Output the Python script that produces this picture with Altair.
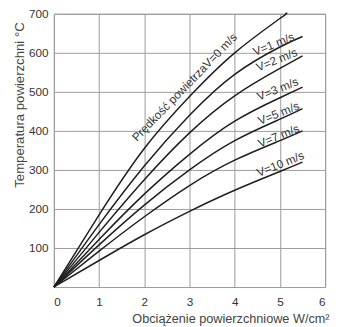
import altair as alt
import pandas as pd

# Surface load (W/cm2) sample points for each air-speed curve
x_v0 = [0, 1, 2, 3, 4, 5, 5.12]
x_std = [0, 1, 2, 3, 4, 5, 5.5]

# Surface temperature (deg C)
t_v0 = [0, 185, 355, 488, 600, 688, 700]
t_v1 = [0, 160, 310, 440, 545, 615, 642]
t_v2 = [0, 140, 275, 395, 490, 560, 592]
t_v3 = [0, 122, 238, 340, 425, 485, 512]
t_v5 = [0, 108, 210, 300, 375, 430, 457]
t_v7 = [0, 92, 180, 260, 325, 375, 400]
t_v10 = [0, 68, 134, 194, 248, 296, 320]

series = ["V0", "V1", "V2", "V3", "V5", "V7", "V10"]
xs = [x_v0, x_std, x_std, x_std, x_std, x_std, x_std]
ts = [t_v0, t_v1, t_v2, t_v3, t_v5, t_v7, t_v10]

# Curve labels
main_label = ["Prędkość powietrzaV=0 m/s"]
main_label_x = [2.89]
main_label_t = [512]

side_labels = ["V=1 m/s", "V=2 m/s", "V=3 m/s", "V=5 m/s", "V=7 m/s", "V=10 m/s"]
side_label_x = [4.86, 4.93, 4.95, 4.97, 4.97, 5.01]
side_label_t = [622, 582, 507, 445, 387, 315]

x_ticks = [0, 1, 2, 3, 4, 5, 6]
y_ticks = [100, 200, 300, 400, 500, 600, 700]

rows = []
for s, xv, tv in zip(series, xs, ts):
    for i, (a, b) in enumerate(zip(xv, tv)):
        rows.append({"series": s, "x": a, "t": b, "o": i})
df = pd.DataFrame(rows)

main_df = pd.DataFrame({"label": main_label, "x": main_label_x, "t": main_label_t})
side_df = pd.DataFrame({"label": side_labels, "x": side_label_x, "t": side_label_t})

FONT = "Liberation Sans"

xscale = alt.Scale(domain=[0, 6], nice=False, zero=True)
yscale = alt.Scale(domain=[0, 700], nice=False, zero=True)

xenc = alt.X(
    "x:Q",
    scale=xscale,
    axis=alt.Axis(
        values=x_ticks,
        grid=True,
        gridColor="#9a9a9a",
        gridWidth=1,
        domain=False,
        ticks=False,
        labelPadding=10,
        labelFontSize=12,
        labelColor="#333",
        labelFont=FONT,
        title="Obciążenie powierzchniowe W/cm²",
        titleFont=FONT,
        titleFontSize=13,
        titleFontWeight="normal",
        titleColor="#444",
        titleAnchor="end",
        titleAlign="right",
        titleBaseline="middle",
        titleX=282,
        titleY=32,
    ),
)
yenc = alt.Y(
    "t:Q",
    scale=yscale,
    axis=alt.Axis(
        values=y_ticks,
        grid=True,
        gridColor="#9a9a9a",
        gridWidth=1,
        domain=False,
        ticks=False,
        labelPadding=6,
        labelFontSize=12,
        labelColor="#333",
        labelFont=FONT,
        title="Temperatura powierzchni °C",
        titleFont=FONT,
        titleFontSize=13.5,
        titleFontWeight="normal",
        titleColor="#444",
        titleAngle=-90,
        titleAlign="center",
        titleBaseline="middle",
        titleX=-35,
        titleY=93,
    ),
)

lines = alt.Chart(df).mark_line(
    interpolate="natural", color="#1e1e1e", strokeWidth=1.5
).encode(x=xenc, y=yenc, detail="series:N", order="o:Q")

main_text = alt.Chart(main_df).mark_text(
    angle=314, align="center", baseline="middle", font=FONT, fontSize=12, color="#333"
).encode(x="x:Q", y="t:Q", text="label:N")

side_text = alt.Chart(side_df).mark_text(
    angle=338, align="center", baseline="middle", font=FONT, fontSize=12, color="#333"
).encode(x="x:Q", y="t:Q", text="label:N")

chart = (
    alt.layer(lines, main_text, side_text)
    .properties(
        width=278,
        height=280,
        padding={"left": 47, "top": 2, "right": 6, "bottom": 37},
        autosize=alt.AutoSizeParams(type="none"),
        background="white",
    )
    .configure_view(stroke="#9a9a9a", strokeWidth=1)
)

chart.save("out.html", embed_options={"renderer": "svg", "actions": False})
